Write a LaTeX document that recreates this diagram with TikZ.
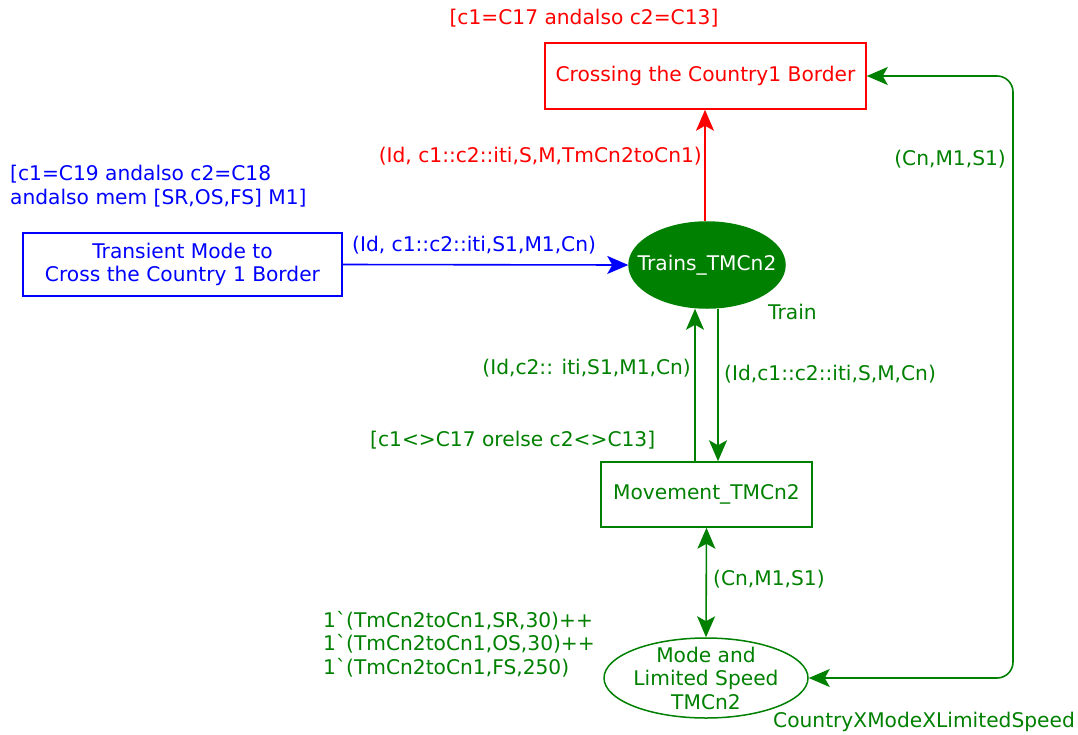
\documentclass[tikz,border=0pt]{standalone}
\usepackage{fontspec}
\setmainfont{DejaVu Sans}[Ligatures=TeXOff]
\usetikzlibrary{arrows.meta,shapes.geometric,calc}
\definecolor{cpngreen}{RGB}{0,128,0}
\definecolor{cpnred}{RGB}{255,0,0}
\definecolor{cpnblue}{RGB}{0,0,255}
\begin{document}
\begin{tikzpicture}[x=1pt,y=-1pt,
  every node/.style={font=\fontsize{20.2}{23.5}\selectfont, inner sep=0pt},
  >={Stealth[length=21pt,width=18pt,inset=5pt]},
  trans/.style={draw, rectangle, line width=1.5pt},
  place/.style={draw, ellipse, line width=1.5pt},
  arc/.style={line width=1.6pt},
  lbl/.style={},
]
\useasboundingbox (0,0) rectangle (1078,734);

% nodes
\node[trans, cpnred, minimum width=321pt, minimum height=66pt] (cross) at (705.5,76) {Crossing the Country1 Border};
\node[trans, cpnblue, minimum width=319pt, minimum height=63pt, align=center] (transient) at (182.5,264.5) {Transient Mode to\\Cross the Country 1 Border};
\node[place, cpngreen, fill=cpngreen, minimum width=156pt, minimum height=86pt] (trains) at (707,265) {};
\node[text=white] (trainst) at (trains.center) {Trains\_TMCn2};
\node[trans, cpngreen, minimum width=211pt, minimum height=65pt] (move) at (706.5,494.5) {Movement\_TMCn2};
\node[place, cpngreen, minimum width=204pt, minimum height=80pt] (mode) at (706,678) {};
\node[cpngreen, align=center] (modet) at (mode.center) {Mode and\\Limited Speed\\TMCn2};

% labels
\node[lbl, cpnred] (g1) at (584,18) {[c1=C17 andalso c2=C13]};
\node[lbl, cpnred, anchor=east] (a1) at (702,156) {(Id, c1::c2::iti,S,M,TmCn2toCn1)};
\node[lbl, cpngreen, anchor=east] (a2) at (1006,159) {(Cn,M1,S1)};
\node[lbl, cpnblue, anchor=west, align=left] (g2) at (10,186) {[c1=C19 andalso c2=C18\\andalso mem [SR,OS,FS] M1]};
\node[lbl, cpnblue, anchor=west] (a3) at (352,245) {(Id, c1::c2::iti,S1,M1,Cn)};
\node[lbl, cpngreen, anchor=west] (ty1) at (768,312) {Train};
\node[lbl, cpngreen, anchor=east] (a4) at (691,368) {(Id,c2:: iti,S1,M1,Cn)};
\node[lbl, cpngreen, anchor=west] (a5) at (724,374) {(Id,c1::c2::iti,S,M,Cn)};
\node[lbl, cpngreen, anchor=west] (g3) at (370,440) {[c1<>C17 orelse c2<>C13]};
\node[lbl, cpngreen, anchor=west] (a6) at (713,579) {(Cn,M1,S1)};
\node[lbl, cpngreen, anchor=west, align=left] (m1) at (323,644) {1`(TmCn2toCn1,SR,30)++\\1`(TmCn2toCn1,OS,30)++\\1`(TmCn2toCn1,FS,250)};
\node[lbl, cpngreen, anchor=east] (ty2) at (1075,722) {CountryXModeXLimitedSpeed};

% connectors
\draw[arc, cpnblue, ->] (transient.east) -- (trains.west);
\draw[arc, cpnred, ->] ([xshift=-2pt]trains.north) -- ([xshift=-0.5pt]cross.south);
\draw[arc, cpngreen, ->] ([xshift=-11.5pt]move.north) -- ([xshift=-12pt]trains.south);
\draw[arc, cpngreen, ->] ([xshift=11pt]trains.south) -- ([xshift=11.5pt]move.north);
\draw[arc, cpngreen, <->] (move.south) -- (mode.north);
\coordinate (k1) at (1013,76);
\coordinate (k2) at (1013,678);
\draw[arc, cpngreen, <->, rounded corners=16pt] (cross.east) -- (k1) -- (k2) -- (mode.east);
\end{tikzpicture}
\end{document}
